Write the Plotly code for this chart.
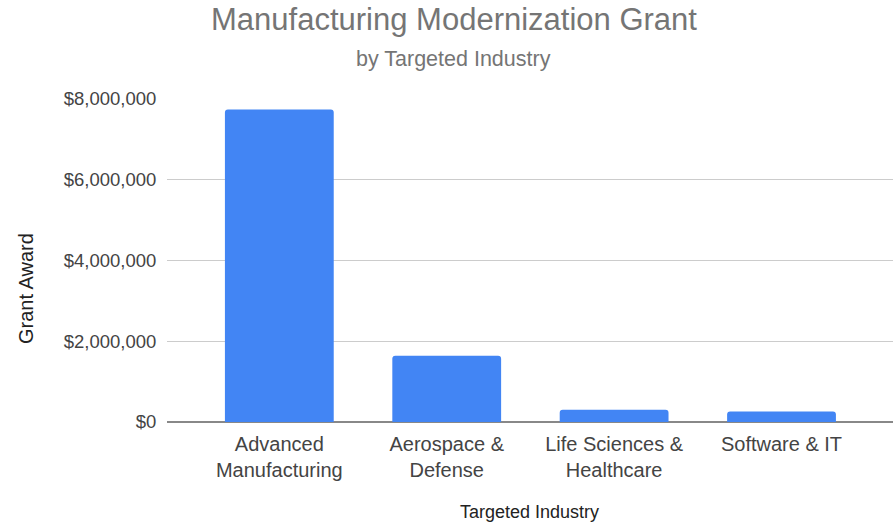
import plotly.graph_objects as go

categories = ["Advanced<br>Manufacturing", "Aerospace &<br>Defense", "Life Sciences &<br>Healthcare", "Software & IT"]
grant_award = [7740000, 1640000, 305000, 262000]
tick_values = [0, 2000000, 4000000, 6000000, 8000000]
tick_labels = ["$0", "$2,000,000", "$4,000,000", "$6,000,000", "$8,000,000"]

FONT = "Liberation Sans, Arial, sans-serif"

fig = go.Figure(go.Bar(
    x=categories, y=grant_award,
    marker=dict(color="#4285F4", line=dict(width=0)),
))

W, H = 896, 526
L, R, T, B = 167, 3, 99, 104
PW, PH = W - L - R, H - T - B

fig.update_layout(
    width=W, height=H,
    margin=dict(l=L, r=R, t=T, b=B),
    paper_bgcolor="white", plot_bgcolor="white",
    showlegend=False,
    bargap=0.35,
    barcornerradius=3,
    font=dict(family=FONT, color="#444444"),
    title=dict(text="Manufacturing Modernization Grant", x=454 / W, xanchor="center",
               y=1 - 19 / H, yanchor="middle",
               font=dict(family=FONT, size=31, color="#757575")),
    xaxis=dict(
        range=[-0.671, 3.666],
        tickfont=dict(family=FONT, size=20, color="#444444"),
        showgrid=False, zeroline=False, showline=False,
        ticks="outside", ticklen=4, tickcolor="rgba(0,0,0,0)",
    ),
    yaxis=dict(
        range=[0, 8000000],
        tickvals=tick_values, ticktext=tick_labels,
        tickfont=dict(family=FONT, size=18.5, color="#444444"),
        showgrid=True, gridcolor="#cccccc", gridwidth=1,
        zeroline=True, zerolinecolor="#888888", zerolinewidth=2,
        showline=False,
        ticks="outside", ticklen=6, tickcolor="rgba(0,0,0,0)",
    ),
    annotations=[
        dict(text="by Targeted Industry", xref="paper", yref="paper",
             x=(453 - L) / PW, y=1 + (99 - 59) / PH, xanchor="center", yanchor="middle",
             showarrow=False, font=dict(family=FONT, size=21.5, color="#757575")),
        dict(text="Targeted Industry", xref="paper", yref="paper",
             x=(529 - L) / PW, y=-(512 - (T + PH)) / PH, xanchor="center", yanchor="middle",
             showarrow=False, font=dict(family=FONT, size=18, color="#222222")),
        dict(text="Grant Award", xref="paper", yref="paper",
             x=-(L - 26) / PW, y=1 - (289 - T) / PH, xanchor="center", yanchor="middle",
             textangle=-90, showarrow=False, font=dict(family=FONT, size=20, color="#222222")),
    ],
)

fig.write_html("out.html", config={"displayModeBar": False})

with open("out.html", "r", encoding="utf-8") as f:
    html = f.read()
html = html.replace("<body>", '<body style="margin:0;padding:0;overflow:hidden">', 1)
with open("out.html", "w", encoding="utf-8") as f:
    f.write(html)
